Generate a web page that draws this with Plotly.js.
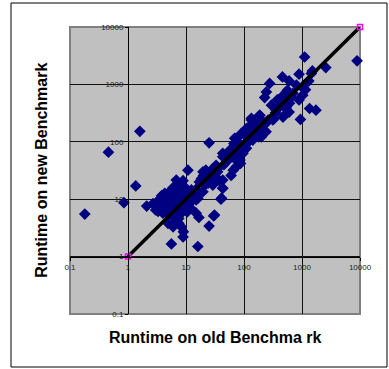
<!DOCTYPE html>
<html>
<head>
<meta charset="utf-8">
<script src="https://cdn.plot.ly/plotly-3.0.1.min.js"></script>
<style>html,body{margin:0;padding:0;background:#fff;}#chart{width:389px;height:369px;}</style>
</head>
<body>
<div id="chart"></div>
<script>
// Runtime on old benchmark (x) vs new benchmark (y)
const oldRuntime = [
  0.18, 0.46, 1.6, 1.36, 0.85, 2.1,
  10.8, 8.9, 6, 4.3, 3.5, 3.3, 4.6, 6, 6.8, 8.3, 8.9, 5.6, 16, 16.7, 25, 30, 13, 11.6, 16, 19.6, 24, 27.5, 35.7, 22.5, 18.5, 35.6, 40, 43,
  7.5, 9, 3.1, 4, 4.9, 6, 7.3, 8.9, 6.8, 10, 12.3, 15, 2.7, 5.2, 4.6, 3.5, 6.8, 8.3, 10, 12, 13, 15, 17, 21, 20, 22, 29, 33, 38,
  5, 5.5, 6.5, 7.5, 8, 9, 7, 5, 4, 6, 9.5, 11, 7, 8, 4.5, 3.8, 5.8, 10.5, 12, 14, 9, 6.3, 5, 7.5, 3, 4.2,
  25, 186, 134, 200, 200, 69, 85, 43, 57, 85, 74, 33, 26, 19.6, 43, 43, 41, 12.4, 16, 15, 31, 29, 60, 96, 110, 142, 163, 117, 103, 67, 90, 87, 65, 56, 43,
  175, 137, 180, 240, 260, 200, 140, 110, 90, 74, 50, 60, 75, 120, 150, 35, 45, 28, 100, 70, 130,
  1110, 8900, 2570, 1510, 890, 460, 600, 277, 243, 227, 400, 540, 800, 1150, 1310, 1450, 890, 1350, 1740, 940, 540, 600, 360, 470, 315, 187, 134, 163, 213, 152,
  297, 410, 660, 1030, 375, 560, 1230, 325, 500, 530, 610, 440, 700, 1000, 250, 350
];
const newRuntime = [
  5.5, 66, 152, 17, 8.7, 7.6,
  32, 21, 16, 12.6, 10, 6.1, 5.7, 6.5, 4.3, 3.3, 2.2, 1.66, 1.5, 4.8, 3.4, 5.1, 9.7, 8.5, 12.6, 13.5, 19, 26, 34.5, 28, 23, 21.5, 10, 15.5,
  4.6, 2.7, 7.4, 5.7, 3.8, 3.3, 5, 16.4, 21.5, 15.5, 12.6, 9.7, 8.4, 11, 8.4, 9.7, 9.7, 5.7, 7.4, 9.7, 12.6, 15, 20, 17.5, 26, 32, 34, 39, 21,
  7, 9, 12, 8, 11, 9, 7, 13, 9, 5, 12, 11, 14, 18, 7, 11.5, 7.8, 6, 7, 11, 6.5, 10.5, 5.3, 3.8, 6.5, 10.5,
  96, 290, 240, 195, 122, 115, 93, 63, 72, 48, 37, 37, 30, 30, 21.5, 15.5, 10.4, 14.5, 10.4, 5.7, 5.3, 17.6, 26, 63, 77, 107, 160, 160, 131, 93, 81, 42, 32, 63, 55,
  160, 148, 122, 150, 240, 240, 210, 170, 140, 115, 45, 55, 65, 100, 130, 30, 40, 22, 90, 50, 115,
  3000, 2570, 1960, 1720, 1510, 1350, 1150, 1040, 740, 590, 535, 740, 975, 810, 1150, 1550, 535, 380, 355, 245, 410, 330, 355, 270, 240, 290, 256, 195, 160, 140,
  435, 410, 605, 650, 540, 790, 1100, 250, 290, 380, 470, 600, 700, 900, 220, 320
];
const diagX = [1, 10000];
const diagY = [1, 10000];
const tickVals = [0.1, 1, 10, 100, 1000, 10000];
const tickText = ['0.1', '1', '10', '100', '1000', '10000'];

const traces = [
  {
    x: oldRuntime, y: newRuntime, type: 'scatter', mode: 'markers',
    marker: {symbol: 'diamond', size: 9, color: '#000080', line: {width: 0}},
    cliponaxis: false, hoverinfo: 'skip'
  },
  {
    x: diagX, y: diagY, type: 'scatter', mode: 'lines+markers',
    line: {color: '#000000', width: 3.5},
    marker: {symbol: 'square-open', size: 5, color: '#ff00ff', line: {width: 1.5, color: '#ff00ff'}},
    cliponaxis: false, hoverinfo: 'skip'
  }
];

const axisCommon = {
  type: 'log', range: [-1, 4],
  tickmode: 'array', tickvals: tickVals, ticktext: tickText,
  showgrid: true, gridcolor: '#111', gridwidth: 1,
  showline: true, linecolor: '#000', linewidth: 1,
  zeroline: false, anchor: 'free', position: 0.2,
  ticks: 'outside', ticklen: 3, tickcolor: '#000', tickwidth: 1,
  tickfont: {family: 'Arial, Liberation Sans, sans-serif', size: 8, color: '#222'},
  fixedrange: true
};

const layout = {
  width: 389, height: 369,
  margin: {l: 70, r: 29, t: 27, b: 55, pad: 0},
  paper_bgcolor: '#ffffff', plot_bgcolor: '#c0c0c0',
  showlegend: false,
  xaxis: Object.assign({}, axisCommon),
  yaxis: Object.assign({}, axisCommon),
  shapes: [
    {type: 'rect', xref: 'paper', yref: 'paper', x0: 0, x1: 1, y0: 0, y1: 1,
     line: {color: '#808080', width: 2}, fillcolor: 'rgba(0,0,0,0)', layer: 'between'},
    {type: 'rect', xref: 'paper', yref: 'paper', x0: -0.2034, x1: 1.0931, y0: -0.1847, y1: 1.0836,
     line: {color: '#000', width: 1}, fillcolor: 'rgba(0,0,0,0)', layer: 'above'}
  ],
  annotations: [
    {text: '<b>Runtime on new Benchmark</b>', xref: 'paper', yref: 'paper', x: -0.1007, y: 0.5017,
     textangle: -90, showarrow: false, xanchor: 'center', yanchor: 'middle',
     font: {family: 'Arial, Liberation Sans, sans-serif', size: 16, color: '#000'}},
    {text: '<b>Runtime on old Benchma rk</b>', xref: 'paper', yref: 'paper', x: 0.5, y: -0.0826,
     showarrow: false, xanchor: 'center', yanchor: 'middle',
     font: {family: 'Arial, Liberation Sans, sans-serif', size: 16, color: '#000'}}
  ]
};

Plotly.newPlot('chart', traces, layout, {staticPlot: true, displayModeBar: false});
</script>
</body>
</html>
